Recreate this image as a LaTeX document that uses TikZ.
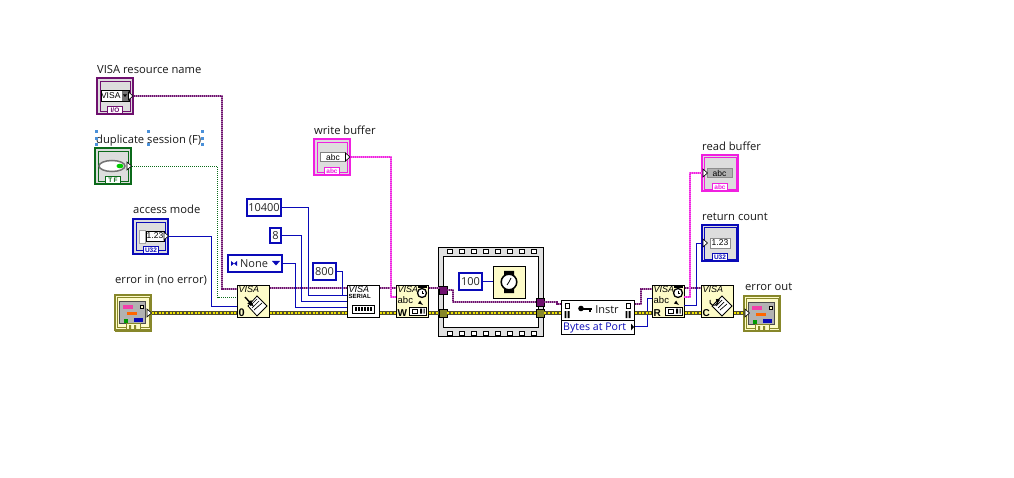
\documentclass[tikz,border=0pt]{standalone}
\usepackage{fontspec}
\setmainfont{Open Sans}
\newfontfamily\icf{Liberation Sans}
\definecolor{vpurple}{HTML}{6E106E}
\definecolor{vpink}{HTML}{F020E0}
\definecolor{vblue}{HTML}{0A0AB8}
\definecolor{vgreen}{HTML}{0B6A1A}
\definecolor{volive}{HTML}{87872A}
\definecolor{vcream}{HTML}{FDFBC8}
\definecolor{vgray}{HTML}{DDDDDD}
\definecolor{hnd}{HTML}{4A90D9}
\tikzset{
  x=1pt,y=-1pt,
  lbl/.style={inner sep=0pt,anchor=base west,font=\fontsize{11.2}{12}\selectfont,text=black!90},
  ic/.style={inner sep=0pt,font=\icf\fontsize{8}{9}\selectfont},
  termbox/.style={draw=#1,line width=2.8pt,fill=vgray,inner sep=0pt},
  indbox/.style={draw=#1,line width=1.2pt,fill=vgray,inner sep=0pt},
  subvi/.style={draw=black,line width=1pt,inner sep=0pt,fill=vcream},
  whitevi/.style={draw=black,line width=1pt,inner sep=0pt,fill=white},
  const/.style={draw=vblue,line width=2.4pt,fill=white,inner sep=0pt,text=black!85,font=\fontsize{11}{12}\selectfont},
  tunnel/.style={draw=black,line width=.7pt,fill=#1,inner sep=0pt},
  wblue/.style={draw=vblue,line width=1pt,line join=miter},
  wpurple/.style={draw=vpurple,line width=2pt,dash pattern=on 1pt off 1pt,
     preaction={draw=vpurple!55!white,line width=2pt,solid}},
  wpink/.style={draw=vpink,line width=2.2pt,dash pattern=on 1pt off 1pt,
     preaction={draw=vpink!65!white,line width=2.2pt,solid}},
  wgreen/.style={draw=vgreen,line width=1pt,dash pattern=on 1pt off 1pt},
  werr/.style={draw=yellow!85!olive,line width=1.3pt,dash pattern=on 2pt off 1.6pt,
     preaction={draw=black!55!olive,line width=3.4pt,solid}},
  trg/.style={draw=black,fill=white,line width=.6pt,line join=miter},
}
\newcommand{\bx}[7]{% name, x1,y1,x2,y2, style, text
  \node[#6,minimum width={(#4)-(#2)},minimum height={(#5)-(#3)}] (#1) at ({((#2)+(#4))/2},{((#3)+(#5))/2}) {#7};}
\newcommand{\outtri}[2]{\draw[trg] (#1,#2-4) -- (#1+4.5,#2) -- (#1,#2+4) -- cycle;}
\newcommand{\tagbox}[5]{% name,cx,ybottom,col,text
  \node[draw=#4,line width=1pt,fill=white,inner sep=0pt,minimum width=15pt,minimum height=7pt,text=#4,font=\icf\bfseries\fontsize{6.5}{6.5}\selectfont] (#1) at (#2,#3) {#5};}
\newcommand{\errpanel}[2]{%
  \begin{scope}[shift={(#1,#2)}]
    \fill[vcream] (0,0) rectangle (38,37);
    \draw[volive,line width=1.6pt] (.8,.8) rectangle (37.2,36.2);
    \draw[volive,line width=.8pt] (3,3) rectangle (35,33);
    \fill[black!30] (5,7) rectangle (31,29);
    \draw[black!70,line width=.6pt] (5,7) rectangle (31,29);
    \fill[magenta!75!white] (9,11) rectangle (19,14.5);
    \fill[vcream,draw=black,line width=.4pt] (26,11) rectangle (29.5,14.5);
    \fill[orange!80!red] (13,18) rectangle (23,21);
    \fill[green!60!black] (10,25) rectangle (14,28.5);
    \fill[vblue] (20,24) rectangle (29,28);
    \fill[vcream,draw=volive,line width=.8pt] (12,29.5) rectangle (26,35.5);
    \fill[volive] (15,31) rectangle (17,35) (20,31) rectangle (22,35);
  \end{scope}}
\begin{document}
\begin{tikzpicture}
\useasboundingbox (0,0) rectangle (1014,478);
\fill[white] (0,0) rectangle (1014,478);

% controls and indicators
\bx{res}{97}{78}{133}{114}{termbox=vpurple}{}
\bx{dup}{95}{148}{131}{184}{termbox=vgreen}{}
\bx{acc}{133}{219}{168}{254}{termbox=vblue}{}
\bx{errin}{115}{295}{151}{331}{draw=volive,line width=1pt,inner sep=0pt}{}
\bx{wbuf}{314}{139}{350}{175}{termbox=vpink}{}
\bx{rbuf}{702}{155}{738}{191}{indbox=vpink}{}
\bx{rcnt}{702}{225}{738}{261}{indbox=vblue}{}
\bx{errout}{744}{295}{780}{331}{draw=volive,line width=1pt,inner sep=0pt}{}
\errpanel{114}{294}
\errpanel{743}{295}

% constants
\bx{c10400}{247}{199}{281}{216}{const}{10400}
\bx{c8}{270}{228}{281}{243}{const}{8}
\bx{cnone}{228}{255}{282}{272}{const}{\hspace*{6pt}None\hspace*{8pt}}
\bx{c800}{313}{263}{336}{280}{const}{800}

% functions
\bx{open}{237}{285}{269}{317}{subvi}{}
\bx{serial}{347}{285}{379}{317}{whitevi}{}
\bx{write}{396}{285}{428}{317}{subvi}{}
\bx{read}{652}{285}{684}{317}{subvi}{}
\bx{close}{701}{285}{733}{317}{subvi}{}
\bx{instr}{561.5}{300.5}{634.5}{334.5}{draw=black,line width=1pt,fill=white,inner sep=0pt}{}
\draw[black,line width=.9pt] (instr.west |- 0,320) -- (instr.east |- 0,320);

% sequence frame
\bx{seq}{438.5}{247.5}{543.5}{336.5}{draw=black,line width=.8pt,fill=black!12,inner sep=0pt}{}
\bx{seqin}{443.5}{256.5}{538.5}{327.5}{draw=black,line width=1pt,fill=white,inner sep=0pt}{}
\foreach \hx in {450,462,...,534}{
  \draw[black,fill=white,line width=1pt] (\hx-2.2,249.5) rectangle (\hx+2.2,253.9);
  \draw[black,fill=white,line width=1pt] (\hx-2.2,331) rectangle (\hx+2.2,335.4);
}
\bx{wait}{493}{266}{525}{298}{draw=black,line width=.9pt,fill=vcream,inner sep=0pt}{}
\bx{c100}{459}{273}{482}{290}{const}{100}
\bx{tlp}{439}{286}{447}{294}{tunnel=vpurple}{}
\bx{tlo}{439}{309}{447}{317}{tunnel=volive}{}
\bx{trp}{536}{298}{544}{306}{tunnel=vpurple}{}
\bx{tro}{536}{309}{544}{317}{tunnel=volive}{}

% named terminals
\coordinate (openA) at (237,289);
\coordinate (openB) at (237,297.5);
\coordinate (openC) at (237,306.5);
\coordinate (serA) at (347,295.5);
\coordinate (serB) at (347,301.5);
\coordinate (serC) at (347,307.5);
\coordinate (wrB) at (396,297);
\coordinate (rdB) at (652,298.5);
\coordinate (rdP) at (652,289);
\coordinate (rdOutA) at (684,297);
\coordinate (rdOutB) at (684,305.5);
\coordinate (rbufIn) at (703,173);
\coordinate (rcntIn) at (703,243.5);
\coordinate (insP) at (561,304);
\coordinate (insOutP) at (635,304);
\coordinate (insOutB) at (635,326.5);
\coordinate (errY) at (0,313);
\coordinate (visaY) at (0,288);

% refnum wires
\draw[wpurple] (res.east) -- (222,96) -- (222,289) -- (openA);
\draw[wpurple] (open.east |- visaY) -- (serial.west |- visaY);
\draw[wpurple] (serial.east |- visaY) -- (write.west |- visaY);
\draw[wpurple] (write.east |- visaY) -- (tlp.west |- visaY);
\draw[wpurple] (tlp.east) -- ++(6,0) |- (trp.west);
\draw[wpurple] (trp.east) -- (557,302) |- (insP);
\draw[wpurple] (insOutP) -- (641,304) |- (rdP);
\draw[wpurple] (read.east |- visaY) -- (close.west |- visaY);

% boolean and numeric wires
\draw[wgreen] (dup.east) ++(0,.5) -- (217.5,166.5) |- (openB);
\draw[wblue] (acc.east) -- (211.5,236.5) |- (openC);
\draw[wblue] (c10400.east) -- (308.5,207.5) |- (serA);
\draw[wblue] (c8.east) -- (301.5,235.5) |- (serB);
\draw[wblue] (cnone.east) -- (295.5,263.5) |- (serC);
\draw[wblue] (c800.east) -- (342.5,271.5) |- (serA);
\draw[wblue] (c100.east) -- (wait.west |- c100.east);
\draw[wblue] (insOutB) -- (647.5,326.5) |- (rdB);
\draw[wblue] (rdOutB) -- (696.5,305.5) |- (rcntIn);

% string wires
\draw[wpink] (wbuf.east) -- (391,157) |- (wrB);
\draw[wpink] (rdOutA) -- (690,297) |- (rbufIn);

% error wires
\draw[werr] (errin.east |- errY) -- (open.west |- errY);
\draw[werr] (open.east |- errY) -- (serial.west |- errY);
\draw[werr] (serial.east |- errY) -- (write.west |- errY);
\draw[werr] (write.east |- errY) -- (tlo.west |- errY);
\draw[werr] (tlo.east) -- (tro.west);
\draw[werr] (tro.east) -- (instr.west |- errY);
\draw[werr] (instr.east |- errY) -- (read.west |- errY);
\draw[werr] (read.east |- errY) -- (close.west |- errY);
\draw[werr] (close.east |- errY) -- (errout.west |- errY);

% control icons
\draw[vpurple,line width=.8pt,fill=vgray] (100,81) rectangle (130,111);
\node[draw=black,line width=.5pt,fill=white,inner sep=0pt,minimum width=28pt,minimum height=11pt,anchor=west,font=\icf\fontsize{8.5}{9}\selectfont] (visabox) at (100.5,96) {VISA\hspace*{8pt}};
\fill[black!55] (122,91) rectangle (129,101);
\fill[black] (123,94.5) -- (127,94.5) -- (125,97) -- cycle;
\outtri{128.5}{96}
\tagbox{tagio}{115}{110}{vpurple}{I/O}

\draw[vgreen,line width=.8pt,fill=vgray] (98,151) rectangle (128,181);
\draw[black!55,line width=1.5pt,fill=white] (112,166) ellipse (13 and 5.5);
\fill[green!80!black] (120,166) ellipse (3.5 and 2.3);
\outtri{127}{166}
\tagbox{tagtf}{113}{180.5}{vgreen}{T\,F}

\draw[vblue,line width=.8pt,fill=vgray] (136,222) rectangle (165,250);
\draw[black!35,line width=.7pt,fill=white] (139,230) rectangle (145,243);
\node[draw=black,line width=.5pt,fill=white,inner sep=0pt,minimum width=18pt,minimum height=10pt,font=\icf\fontsize{8.5}{9}\selectfont] (acc123) at (155,236) {1.23};
\outtri{164}{236}
\tagbox{tagacc}{151}{250}{vblue}{U32}

\draw[vpink,line width=.8pt,fill=vgray] (317,142) rectangle (347,172);
\node[draw=black!50,line width=.8pt,fill=white,inner sep=0pt,minimum width=25pt,minimum height=9pt,font=\icf\fontsize{8.5}{9}\selectfont] (wabc) at (333,157) {abc};
\outtri{345.5}{157}
\tagbox{tagw}{332}{171.5}{vpink}{abc}

\draw[vpink,line width=.8pt] (704,157) rectangle (736,189);
\node[draw=black!45,line width=.8pt,fill=black!30,inner sep=0pt,minimum width=25pt,minimum height=9pt,font=\icf\fontsize{8.5}{9}\selectfont] (rabc) at (719.5,173) {abc};
\outtri{703}{173}
\tagbox{tagr}{720}{187.5}{vpink}{abc}

\draw[vblue,line width=.8pt] (704,227) rectangle (736,259);
\node[draw=black!45,line width=.8pt,fill=white,inner sep=0pt,minimum width=20pt,minimum height=10pt,font=\icf\fontsize{8.5}{9}\selectfont] (r123) at (720,243) {1.23};
\outtri{703}{243}
\tagbox{tagu}{720}{257.5}{vblue}{U32}

\outtri{147}{313}
\outtri{745}{313}

% none ring arrows
\fill[vblue] (234,263.5) -- (231,261) -- (231,266) -- cycle;
\fill[vblue] (234,263.5) -- (237,261) -- (237,266) -- cycle;
\fill[vblue] (272,261) -- (280,261) -- (276,265.5) -- cycle;

% function icons
\newcommand{\visa}[3]{\node[ic,anchor=north west,font=\icf\itshape\fontsize{9}{9}\selectfont] (#3) at (#1+1.5,#2+1.5) {VISA};}
\visa{237}{285}{va} \visa{347}{285}{vb} \visa{396}{285}{vc} \visa{652}{285}{vd} \visa{701}{285}{ve}
% open
\node[ic,anchor=south west,font=\icf\bfseries\fontsize{11}{11}\selectfont] (o0) at (238.5,316.5) {0};
\draw[black,line width=.8pt,fill=white] (248,306) -- (257,296) -- (267,306) -- (257,316) -- cycle;
\draw[black,line width=.7pt] (250,306) -- (257,299) (252,308) -- (259,301) (254,310) -- (262,303);
\draw[-latex,black,line width=1.4pt] (245,297) -- (254,307);
% serial
\node[ic,anchor=north west,font=\icf\bfseries\fontsize{6}{6}\selectfont] (sertxt) at (348.5,294.5) {SERIAL};
\draw[black,line width=1pt,fill=white] (352,305) rectangle (374,313);
\foreach \sx in {355,358,...,370}{\fill[black] (\sx,307) rectangle (\sx+1.6,311);}
% write & read
\foreach \fx/\fl/\nm in {396/W/wt,652/R/rt}{
  \draw[black,line width=1.3pt,fill=white] (\fx+26,293) circle (4.5);
  \draw[black,line width=.6pt] (\fx+26,293) -- (\fx+26,290.5) (\fx+26,293) -- (\fx+28,293);
  \fill[black] (\fx+22,285.5) rectangle (\fx+31,288);
  \node[ic,anchor=west,font=\icf\fontsize{9.5}{9}\selectfont] (\nm a) at (\fx+1.5,300.5) {abc};
  \node[ic,anchor=south west,font=\icf\bfseries\fontsize{10}{10}\selectfont] (\nm b) at (\fx+1.5,316.5) {\fl};
  \draw[black,line width=1pt,fill=white] (\fx+13,307) rectangle (\fx+30,315);
  \draw[black,line width=.6pt] (\fx+16,309) rectangle (\fx+21,313);
  \fill[black] (\fx+24,308.5) rectangle (\fx+26,313.5) (\fx+27.5,308.5) rectangle (\fx+28.5,313.5);
}
\draw[black,line width=.7pt,-latex] (419,302) -- (423,305);
\draw[black,line width=.7pt,-latex] (675,302) -- (679,305);
% close
\node[ic,anchor=south west,font=\icf\bfseries\fontsize{10}{10}\selectfont] (cl) at (702.5,316.5) {C};
\draw[black,line width=.8pt,fill=white] (712,306) -- (722,296) -- (732,306) -- (722,316) -- cycle;
\draw[black,line width=.7pt] (716,306) -- (722,300) (718,308) -- (724,302) (720,310) -- (727,304);
\draw[black,line width=1pt] (710,300) arc (200:20:4);
\draw[-latex,black,line width=1pt] (718,299) -- (717,305);
% wait icon
\fill[black] (504,271) rectangle (514,276) (504,288) rectangle (514,293);
\draw[black,line width=1.5pt,fill=white] (509,282) circle (7.8);
\draw[black,line width=.8pt] (509,282) -- (511,278) (509,282) -- (507,285);
% property node
\node[inner sep=0pt,font=\fontsize{11}{12}\selectfont,text=black!90] (instrtxt) at (607,309.5) {Instr};
\node[inner sep=0pt,anchor=west,font=\fontsize{10.6}{12}\selectfont,text=vblue] (bytes) at (563,327.5) {Bytes at Port};
\fill[black] (631,323.5) -- (634,327) -- (631,330.5) -- cycle;
\foreach \px in {567,628}{
  \draw[black,line width=.7pt,fill=white] (\px-2,303) rectangle (\px+2,308);
  \fill[black] (\px-2.5,311) rectangle (\px-.7,318) (\px+.7,311) rectangle (\px+2.5,318);
}
\fill[black] (581,308.5) circle (2.8);
\draw[black,line width=1.7pt] (581,309) -- (592,309) (590,309) -- (590,312);

% labels
\node[lbl] (l1) at (97,73.8) {VISA resource name};
\node[lbl] (l3) at (133,213.8) {access mode};
\node[lbl] (l4) at (115,283.8) {error in (no error)};
\node[lbl] (l5) at (314,134.8) {write buffer};
\node[lbl] (l6) at (702,150.8) {read buffer};
\node[lbl] (l7) at (702,220.8) {return count};
\node[lbl] (l8) at (745,290.8) {error out};
\node[lbl] (l2) at (96,143.8) {duplicate session (F)};
\foreach \hx in {96,148,202}{\foreach \hy in {132,145}{\fill[hnd] (\hx-1.5,\hy-1.5) rectangle (\hx+1.5,\hy+1.5);}}
\foreach \hx in {96,202}{\fill[hnd] (\hx-1.5,137.5) rectangle (\hx+1.5,140.5);}
\end{tikzpicture}
\end{document}
